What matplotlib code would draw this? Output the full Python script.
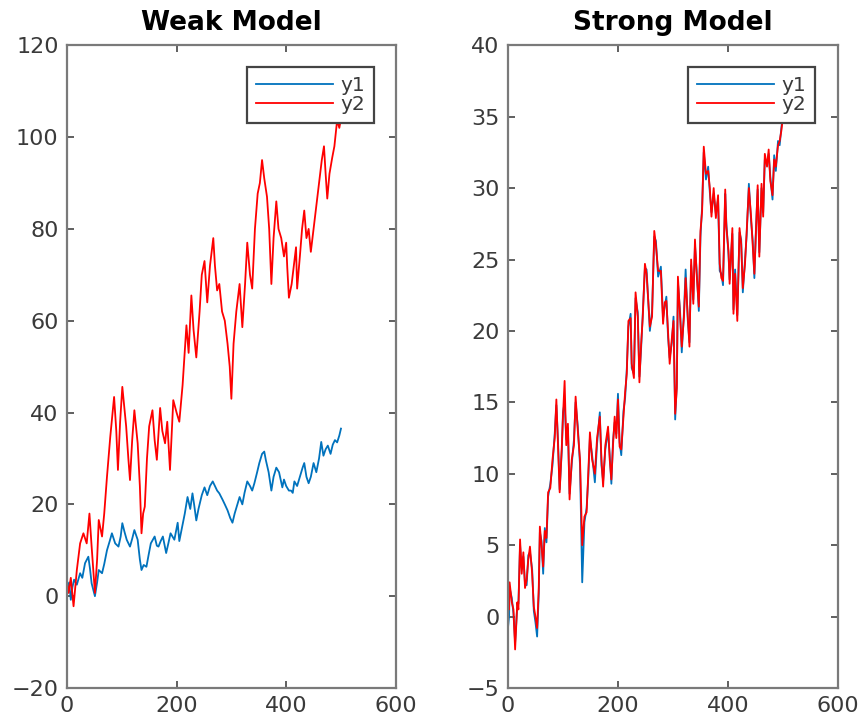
import numpy as np
import matplotlib
matplotlib.use("Agg")
import matplotlib.pyplot as plt

# ---- Weak model: values ----
weak_x2 = [0, 3, 7, 12, 18, 24, 30, 36, 41, 45, 51, 55, 58, 64, 68, 73, 79, 86, 90, 93,
           97, 101, 108, 112, 115, 119, 123, 129, 133, 136, 139, 142, 146, 150, 156, 160,
           164, 170, 174, 179, 183, 188, 194, 200, 205, 211, 218, 222, 227, 231, 236, 242,
           246, 251, 256, 261, 267, 270, 274, 278, 283, 288, 293, 297, 300, 304, 309, 315,
           320, 325, 329, 334, 338, 343, 348, 352, 356, 360, 365, 369, 373, 377, 382, 386,
           391, 396, 400, 402, 405, 410, 414, 418, 420, 425, 429, 433, 437, 441, 445, 450,
           456, 460, 465, 469, 472, 475, 479, 484, 488, 493, 497, 500]
weak_y2 = [3, 0.7, 4, -2.2, 5.7, 11.5, 13.7, 11.5, 18, 10.8, 0.7, 8, 16.6, 13, 18, 26, 34.7,
           43.4, 36, 27.5, 38, 45.6, 37, 30, 25.3, 34, 40.5, 33.3, 24, 13.7, 18, 19.5, 30, 37,
           40.5, 34, 29.7, 41, 36, 33.3, 38, 27.5, 42.7, 40, 38, 46, 59, 53, 65.5, 58, 52, 62,
           70, 73, 64, 72, 78, 72, 66.6, 68, 62, 60, 55, 50, 43, 55, 62, 68, 58.6, 68, 77, 70,
           67, 80, 87.7, 90, 95, 91, 87, 80, 68, 78, 86, 80, 78, 74, 77, 71.6, 65, 68, 72, 76,
           67, 74, 80, 84, 78, 80, 75, 80, 86, 90, 95, 98, 92, 86.6, 92, 95.5, 98, 103.7, 102,
           104]

weak_x1 = [0, 4, 7, 10, 13, 18, 24, 28, 33, 39, 42, 45, 51, 55, 58, 64, 68, 73, 78, 82, 88,
           94, 98, 101, 105, 109, 115, 119, 123, 129, 133, 136, 140, 145, 149, 153, 160, 164,
           167, 171, 175, 181, 185, 189, 196, 202, 205, 210, 215, 220, 225, 229, 232, 236,
           240, 246, 251, 256, 261, 266, 270, 274, 278, 284, 288, 293, 298, 302, 306, 311,
           315, 320, 324, 329, 334, 338, 342, 347, 351, 356, 360, 363, 368, 373, 377, 382,
           387, 393, 396, 400, 405, 409, 412, 415, 420, 425, 430, 433, 437, 441, 445, 450,
           455, 460, 464, 468, 472, 476, 481, 485, 489, 493, 497, 500]
weak_y1 = [1.4, 3, -0.8, 2, 3.6, 2.5, 5, 4, 7.2, 8.6, 6, 2.8, 0, 3, 5.7, 5, 7, 10, 12, 13.7,
           11.5, 10.8, 13, 15.9, 14, 12.3, 10.8, 12.5, 14.4, 12.3, 8, 5.7, 6.8, 6.4, 9, 11.5,
           13, 11, 10.8, 12, 13, 9.4, 11.5, 13.7, 12.3, 16, 12, 15, 18, 21.6, 19, 22.4, 20,
           16.5, 19, 22, 23.7, 22, 24, 25, 24, 23, 22.4, 21, 20, 18.7, 17, 16, 18, 20, 21.6,
           20, 22.5, 25, 24, 23, 24.6, 27, 29, 31, 31.5, 29.6, 27, 23, 26, 28, 27, 23.7, 25.4,
           24, 23, 23, 22.5, 25, 24, 26, 28, 29, 26, 24.6, 26, 29, 27, 30, 33.6, 30.6, 32,
           32.8, 31, 33, 34, 33.5, 35, 36.5]

# ---- Strong model ----
strong_x = [0, 2, 3, 7, 10, 13, 17, 19, 22, 25, 28, 31, 34, 37, 40, 44, 47, 50, 53, 56, 58,
            61, 64, 67, 70, 73, 77, 81, 85, 88, 91, 94, 98, 100, 103, 106, 109, 112, 116,
            120, 123, 127, 131, 135, 139, 143, 146, 149, 153, 158, 162, 167, 170, 173, 177,
            182, 185, 188, 191, 194, 197, 200, 203, 206, 210, 213, 216, 219, 223, 225, 229,
            232, 236, 239, 242, 245, 249, 252, 258, 262, 266, 269, 273, 278, 282, 285, 288,
            291, 294, 298, 301, 304, 307, 309, 313, 316, 320, 323, 327, 330, 333, 337, 340,
            343, 347, 350, 353, 356, 360, 364, 367, 370, 374, 378, 382, 385, 388, 391, 395,
            397, 401, 403, 408, 410, 413, 417, 421, 424, 427, 431, 434, 438, 442, 445, 448,
            451, 454, 457, 461, 464, 467, 471, 474, 477, 481, 484, 487, 491, 494, 497, 500]
strong_y2 = [2.0, 0.5, 2.4, 1.0, 0.5, -2.3, 1.0, 0.5, 5.4, 3, 4.5, 2, 2.6, 4, 4.9, 3, 0.7,
             0.0, -0.8, 2, 6.3, 5, 3.5, 6, 5.5, 8.7, 9, 11, 12.5, 15.2, 12, 8.7, 12, 14, 16.5,
             12, 13.5, 8.2, 11, 12, 15.4, 13, 11, 5, 7, 7.3, 10, 12.9, 11, 10, 12.5, 14, 11,
             9.1, 12, 13.3, 11, 9.6, 12, 14, 12.5, 15.2, 11.9, 11.7, 14, 15.7, 17, 20.7, 20.9,
             17.7, 16.7, 22.7, 21, 16.4, 19, 20.9, 24.7, 24, 20.3, 21, 27, 26, 24.2, 24.2,
             20.5, 22, 22.1, 20, 17.7, 19.5, 20.7, 14.2, 16, 23.8, 21, 18.9, 21, 23.7, 21,
             18.9, 25, 21.9, 26.4, 24, 21.7, 27, 28.4, 32.9, 31, 31.2, 30, 28, 30, 27.9, 29.5,
             24.7, 23.7, 23.5, 29.9, 27.3, 25.6, 23.3, 27.2, 21.2, 24, 20.7, 27.2, 26.1, 23,
             24.7, 27, 30, 28, 26, 24, 27, 30.2, 25.2, 30.3, 28, 32.4, 31.5, 32.7, 30.5, 29.5,
             32, 31.5, 33, 33.3, 34, 35]
strong_y1 = [-0.8, 0.0, 2.0, 1.3, 0.2, -1.8, 0.8, 0.9, 5.0, 3.4, 4.2, 2.3, 2.2, 4.3, 4.5, 3.3,
             0.4, -0.4, -1.4, 1.6, 5.9, 5.3, 3.0, 6.2, 5.2, 8.4, 9.3, 10.6, 12.8, 14.8, 12.3,
             8.9, 11.7, 14.3, 15.0, 12.4, 13.2, 8.6, 10.7, 12.4, 15.0, 13.3, 10.6, 2.4, 6.6,
             7.6, 9.7, 12.5, 11.3, 9.4, 12.1, 14.3, 10.6, 9.5, 11.7, 13.0, 11.3, 9.3, 12.3,
             13.6, 12.8, 15.6, 12.2, 11.3, 14.4, 15.3, 17.3, 20.3, 21.2, 17.4, 17.0, 22.3,
             21.3, 16.8, 18.7, 21.2, 24.4, 24.3, 20.0, 21.4, 26.6, 26.3, 23.8, 24.5, 20.9,
             21.7, 22.4, 19.6, 18.1, 19.2, 21.0, 13.8, 16.3, 23.4, 21.3, 18.5, 21.3, 24.3,
             20.7, 19.2, 24.6, 22.2, 26.0, 24.3, 21.4, 26.6, 28.7, 32.5, 30.6, 31.5, 29.7,
             28.3, 29.6, 28.2, 29.2, 24.2, 24.0, 23.2, 29.6, 27.6, 25.3, 23.6, 26.8, 21.5,
             24.3, 21.1, 26.9, 26.4, 22.7, 25.0, 26.7, 30.3, 27.7, 26.3, 23.7, 27.3, 29.9,
             25.5, 30.0, 28.3, 32.0, 31.8, 32.4, 30.8, 29.2, 32.3, 31.2, 33.3, 33.0, 34.2, 35.2]

C_BLUE = "#0072BD"
C_RED = "#FF0000"
AX_GRAY = "#7a7a7a"
TXT = "#3a3a3a"


def style_axes(ax, xlim, ylim, yticks):
    ax.set_xlim(*xlim)
    ax.set_ylim(*ylim)
    ax.set_xticks([0, 200, 400, 600])
    ax.set_yticks(yticks)
    for s in ax.spines.values():
        s.set_color(AX_GRAY)
        s.set_linewidth(1.6)
    ax.tick_params(direction="in", length=5, width=1.2, color="#444444",
                   top=True, right=True, labelsize=16, labelcolor=TXT, pad=6)


def add_legend(ax, right, top):
    leg = ax.legend(loc="upper right", bbox_to_anchor=(right, top), borderaxespad=0,
                    fontsize=14.5, handlelength=3.8, handletextpad=0.35, labelspacing=0.0,
                    borderpad=0.45, fancybox=False, framealpha=1, edgecolor="#444444")
    leg.get_frame().set_linewidth(1.6)
    for t in leg.get_texts():
        t.set_color(TXT)


fig = plt.figure(figsize=(8.63, 7.23), dpi=100)
ax1 = fig.add_axes([0.0776, 0.0484, 0.381, 0.889])
ax2 = fig.add_axes([0.5886, 0.0484, 0.3824, 0.889])

ax1.plot(weak_x1, weak_y1, color=C_BLUE, lw=1.3, label="y1")
ax1.plot(weak_x2, weak_y2, color=C_RED, lw=1.3, label="y2")
style_axes(ax1, (0, 600), (-20, 120), range(-20, 121, 20))
ax1.set_title("Weak Model", fontsize=19, fontweight="bold", pad=11)
add_legend(ax1, 0.933, 0.966)

ax2.plot(strong_x, strong_y1, color=C_BLUE, lw=1.3, label="y1")
ax2.plot(strong_x, strong_y2, color=C_RED, lw=1.3, label="y2")
style_axes(ax2, (0, 600), (-5, 40), range(-5, 41, 5))
ax2.set_title("Strong Model", fontsize=19, fontweight="bold", pad=11)
add_legend(ax2, 0.930, 0.966)

fig.savefig("out.png", dpi=100)
